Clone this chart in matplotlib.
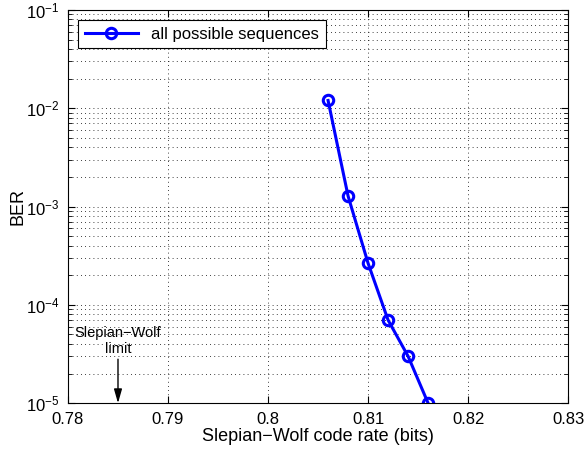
import matplotlib
matplotlib.use("Agg")
import matplotlib.pyplot as plt
from matplotlib.ticker import LogLocator, NullFormatter

plt.rcParams['font.family'] = ['Liberation Sans', 'DejaVu Sans']
plt.rcParams['font.size'] = 12
plt.rcParams['mathtext.fontset'] = 'custom'
plt.rcParams['mathtext.rm'] = 'Liberation Sans'
plt.rcParams['mathtext.it'] = 'Liberation Sans'

rate = [0.806, 0.808, 0.810, 0.812, 0.814, 0.816]
ber = [1.2e-2, 1.28e-3, 2.65e-4, 7.0e-5, 3.0e-5, 1.0e-5]
sw_limit = 0.785
xticks = [0.78, 0.79, 0.80, 0.81, 0.82, 0.83]
xticklabels = ["0.78", "0.79", "0.8", "0.81", "0.82", "0.83"]

fig = plt.figure(figsize=(5.85, 4.53), dpi=100)
ax = fig.add_axes([0.1162, 0.110, 0.855, 0.868])

ax.semilogy(rate, ber, 'b-o', lw=2.2, ms=7.5, mfc='none', mew=2.2, label="all possible sequences")

ax.set_xlim(0.78, 0.83)
ax.set_ylim(1e-5, 1e-1)
ax.set_xticks(xticks)
ax.set_xticklabels(xticklabels)
ax.yaxis.set_major_locator(LogLocator(base=10, numticks=10))
ax.yaxis.set_minor_locator(LogLocator(base=10, subs=range(2, 10), numticks=20))
ax.yaxis.set_minor_formatter(NullFormatter())

gstyle = dict(ls=(0, (1, 4)), color='k', lw=0.6)
ax.grid(True, which='major', **gstyle)
ax.grid(True, which='minor', axis='y', **gstyle)
ax.tick_params(which='both', direction='in', top=True, right=True)
ax.tick_params(which='major', length=5)
ax.tick_params(which='minor', length=3)
ax.tick_params(axis='x', pad=6)
ax.tick_params(axis='y', pad=6)

ax.set_xlabel("Slepian\u2212Wolf code rate (bits)", fontsize=13, labelpad=1)
ax.set_ylabel("BER", fontsize=13, labelpad=0)

ax.text(sw_limit, 3.0e-5, "Slepian\u2212Wolf\nlimit", ha='center', va='bottom',
        fontsize=10.5, linespacing=1.25)
ax.annotate("", xy=(sw_limit, 1e-5), xytext=(sw_limit, 2.8e-5),
            arrowprops=dict(arrowstyle='-|>,head_width=0.2,head_length=0.7',
                            color='k', lw=1, shrinkA=0, shrinkB=0))

leg = ax.legend(loc='upper left', fancybox=False, edgecolor='k', framealpha=1,
                handlelength=3.2, borderaxespad=0.6, fontsize=12)
leg.get_frame().set_linewidth(0.8)

fig.savefig("out.png", dpi=100)
